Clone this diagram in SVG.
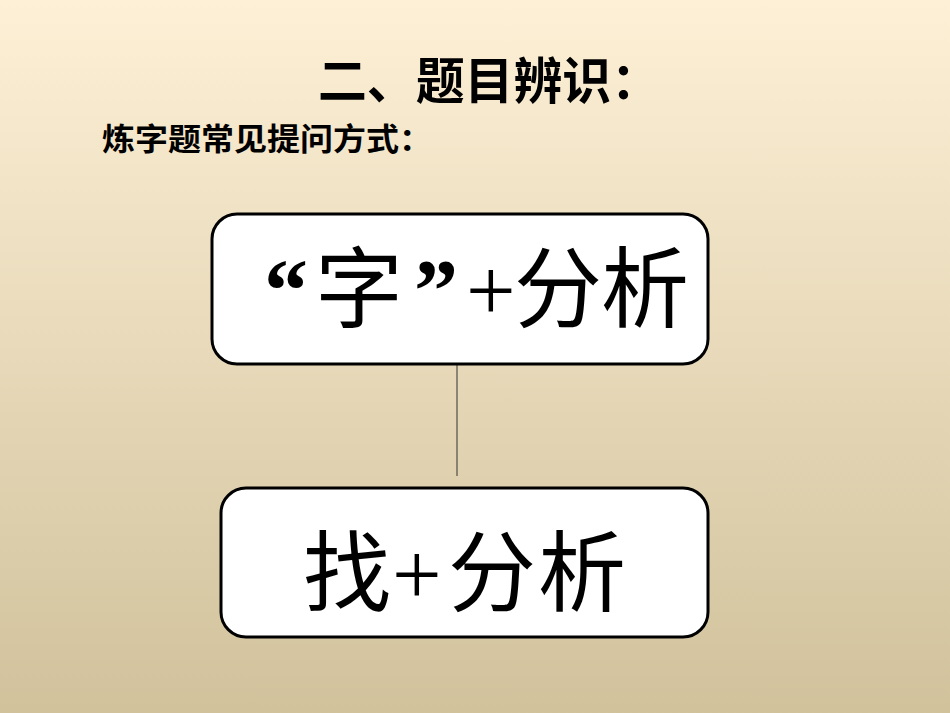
<svg xmlns="http://www.w3.org/2000/svg" width="950" height="713" viewBox="0 0 950 713">
<style>
.box{fill:#ffffff;stroke:#000000;stroke-width:3}
.big{font-family:"Liberation Serif","Noto Sans CJK SC",serif;font-size:88px;fill:#000}
.hd{font-family:"Noto Sans CJK SC",sans-serif;font-weight:bold;fill:#000}
.conn{stroke:#333;stroke-width:1;fill:none}
</style>
<defs>
<linearGradient id="bg" x1="0" y1="0" x2="0" y2="1">
<stop offset="0" stop-color="#fdf0d6"/>
<stop offset="1" stop-color="#d1c29c"/>
</linearGradient>
</defs>
<rect x="0" y="0" width="950" height="713" fill="url(#bg)"/>
<g id="title">
<text class="hd" x="318" y="99" font-size="50" textLength="342" lengthAdjust="spacingAndGlyphs">二、题目辨识：</text>
</g>
<g id="subtitle">
<text class="hd" x="102" y="150" font-size="31" textLength="330" lengthAdjust="spacingAndGlyphs">炼字题常见提问方式：</text>
</g>
<g id="connectors">
<line class="conn" x1="457" y1="364" x2="457" y2="476"/>
</g>
<g id="node1">
<rect class="box" x="212" y="214" width="496" height="150" rx="25"/>
<text class="big" y="320"><tspan x="264" font-weight="bold">“</tspan><tspan x="315">字</tspan><tspan x="414" font-weight="bold">”</tspan><tspan x="466">+</tspan><tspan x="514">分</tspan><tspan x="601">析</tspan></text>
</g>
<g id="node2">
<rect class="box" x="221" y="488" width="487" height="149" rx="25"/>
<text class="big" y="604"><tspan x="303">找</tspan><tspan x="392">+</tspan><tspan x="448">分</tspan><tspan x="538">析</tspan></text>
</g>
</svg>
